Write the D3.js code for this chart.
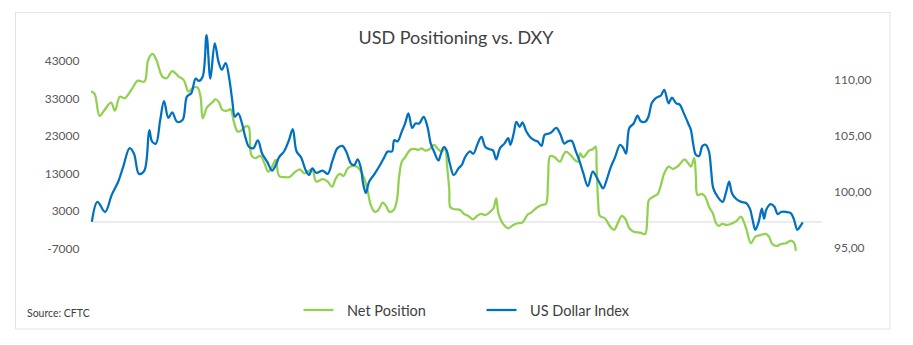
<!DOCTYPE html>
<html>
<head>
<meta charset="utf-8">
<script src="https://cdn.jsdelivr.net/npm/d3@7/dist/d3.min.js"></script>
<style>
  html, body { margin: 0; padding: 0; background: #ffffff; }
  svg { display: block; font-family: Lato, "Open Sans", sans-serif; }
</style>
</head>
<body>
<svg id="chart" width="913" height="345"></svg>
<script>
// ---------- DATA ----------
const title = "USD Positioning vs. DXY";
const sourceText = "Source: CFTC";
const seriesNames = ["Net Position", "US Dollar Index"];
const leftTicks = [-7000, 3000, 13000, 23000, 33000, 43000];
const rightTicks = [95, 100, 105, 110];
const xTickLabels = ["Mar-22", "Sep-22", "Mar-23", "Sep-23", "Mar-24", "Sep-24", "Mar-25", "Sep-25"];

const dxyDates = [
 "2022-03-01","2022-03-11","2022-03-25","2022-04-06","2022-04-18","2022-04-27","2022-05-09","2022-05-17","2022-05-26",
 "2022-06-05","2022-06-14","2022-06-19","2022-06-26","2022-07-04","2022-07-11","2022-07-19","2022-07-26","2022-08-04",
 "2022-08-14","2022-08-22","2022-08-30","2022-09-07","2022-09-13","2022-09-20","2022-09-27","2022-10-04","2022-10-12",
 "2022-10-19","2022-10-25","2022-11-01","2022-11-07","2022-11-13","2022-11-18","2022-11-24","2022-12-01","2022-12-07",
 "2022-12-14","2022-12-22","2022-12-30","2023-01-07","2023-01-16","2023-01-25","2023-02-01","2023-02-07","2023-02-16",
 "2023-02-25","2023-03-04","2023-03-11","2023-03-19","2023-03-28","2023-04-03","2023-04-09","2023-04-16","2023-04-28",
 "2023-05-07","2023-05-16","2023-05-25","2023-06-03","2023-06-10","2023-06-19","2023-06-25","2023-07-01","2023-07-07",
 "2023-07-11","2023-07-16","2023-07-22","2023-08-01","2023-08-10","2023-08-19","2023-08-25","2023-09-02","2023-09-06",
 "2023-09-12","2023-09-20","2023-09-26","2023-10-02","2023-10-09","2023-10-15","2023-10-22","2023-10-30","2023-11-06",
 "2023-11-12","2023-11-18","2023-11-26","2023-11-30","2023-12-06","2023-12-11","2023-12-17","2023-12-24","2024-01-02",
 "2024-01-08","2024-01-14","2024-01-23","2024-01-29","2024-02-06","2024-02-13","2024-02-20","2024-02-28","2024-03-05",
 "2024-03-11","2024-03-18","2024-03-26","2024-04-02","2024-04-06","2024-04-12","2024-04-17","2024-04-23","2024-04-28",
 "2024-05-05","2024-05-12","2024-05-20","2024-05-26","2024-06-02","2024-06-08","2024-06-16","2024-06-20","2024-06-29",
 "2024-07-06","2024-07-14","2024-07-20","2024-07-27","2024-08-04","2024-08-11","2024-08-18","2024-08-26","2024-09-04",
 "2024-09-11","2024-09-17","2024-09-23","2024-09-29","2024-10-07","2024-10-15","2024-10-24","2024-10-30","2024-11-04",
 "2024-11-10","2024-11-18","2024-11-25","2024-12-01","2024-12-09","2024-12-15","2024-12-21","2024-12-27","2025-01-03",
 "2025-01-07","2025-01-13","2025-01-21","2025-01-27","2025-02-04","2025-02-10","2025-02-18","2025-02-26","2025-03-03",
 "2025-03-07","2025-03-12","2025-03-18","2025-03-24","2025-03-30","2025-04-05","2025-04-09","2025-04-13","2025-04-21",
 "2025-04-30","2025-05-06","2025-05-12","2025-05-17","2025-05-24","2025-06-03","2025-06-12","2025-06-19","2025-06-24",
 "2025-06-29","2025-07-05","2025-07-11","2025-07-15","2025-07-19","2025-07-27","2025-08-03","2025-08-09","2025-08-15",
 "2025-08-24","2025-09-02","2025-09-08","2025-09-14","2025-09-19","2025-09-23"
];
const dxyValues = [
 97.4,99.1,98.2,99.7,100.9,102.2,103.9,103.4,101.6,
 101.9,105.5,104.5,104.3,106.4,108.1,106.6,107.1,106.25,
 106.4,108.5,108.8,110.1,109.9,110.3,114.0,110.1,113.25,
 111.6,110.9,111.5,110.3,108.2,106.7,107.0,106.1,104.9,
 104.0,103.9,104.6,103.4,102.7,101.9,102.4,103.1,103.6,
 104.6,105.6,103.6,103.1,101.9,101.5,102.1,101.7,101.9,
 101.6,102.8,103.9,104.1,103.6,102.5,102.4,102.9,102.1,
 100.75,99.9,100.9,101.6,102.3,103.1,103.6,103.6,104.6,
 104.5,105.4,106.1,107.0,105.7,106.1,106.1,106.7,105.8,
 104.3,103.6,102.8,103.3,104.0,103.7,102.5,101.5,102.1,
 102.4,103.1,103.6,103.4,104.3,104.9,104.0,103.8,103.7,
 102.9,103.9,104.3,104.8,104.2,105.2,106.25,105.8,106.2,
 105.4,104.9,104.6,104.5,104.1,105.1,105.2,105.3,105.7,
 105.2,104.3,104.5,104.55,103.6,102.7,101.6,100.5,101.8,
 101.3,100.75,100.3,101.0,102.2,103.1,104.2,103.9,103.4,
 105.7,106.1,106.8,106.3,106.25,106.7,107.9,108.3,108.5,
 108.6,109.1,107.9,108.4,107.9,107.8,107.0,106.1,105.5,
 104.3,103.3,103.2,104.1,104.2,103.6,101.9,100.3,99.55,
 99.1,99.9,100.9,99.9,99.4,99.1,99.0,98.5,97.5,
 96.6,97.3,98.5,97.6,98.4,98.9,98.66,98.0,98.2,
 98.2,98.1,97.5,96.6,96.9,97.2
];

const netDates = [
 "2022-03-01","2022-03-06","2022-03-15","2022-03-24","2022-04-05","2022-04-12","2022-04-21","2022-04-30","2022-05-12",
 "2022-05-24","2022-06-05","2022-06-12","2022-06-20","2022-06-27","2022-07-08","2022-07-16","2022-07-26","2022-08-07",
 "2022-08-16","2022-08-25","2022-09-01","2022-09-10","2022-09-16","2022-09-20","2022-09-28","2022-10-07","2022-10-14",
 "2022-10-20","2022-10-26","2022-11-04","2022-11-10","2022-11-16","2022-11-23","2022-12-01","2022-12-07","2022-12-13",
 "2022-12-18","2022-12-25","2023-01-04","2023-01-10","2023-01-18","2023-01-25","2023-02-01","2023-02-07","2023-02-19",
 "2023-02-27","2023-03-07","2023-03-17","2023-03-25","2023-04-03","2023-04-09","2023-04-16","2023-04-28","2023-05-07",
 "2023-05-15","2023-05-22","2023-05-29","2023-06-05","2023-06-13","2023-06-23","2023-07-01","2023-07-07","2023-07-13",
 "2023-07-19","2023-07-25","2023-08-01","2023-08-07","2023-08-16","2023-08-22","2023-08-28","2023-09-05","2023-09-11",
 "2023-09-15","2023-09-20","2023-09-26","2023-10-05","2023-10-14","2023-10-20","2023-10-26","2023-11-02","2023-11-10",
 "2023-11-18","2023-11-24","2023-12-02","2023-12-08","2023-12-12","2023-12-16","2023-12-18","2023-12-26","2024-01-05",
 "2024-01-12","2024-01-20","2024-01-28","2024-02-05","2024-02-12","2024-02-20","2024-02-27","2024-03-06","2024-03-11",
 "2024-03-15","2024-03-22","2024-04-02","2024-04-11","2024-04-20","2024-04-28","2024-05-07","2024-05-14","2024-05-23",
 "2024-06-02","2024-06-10","2024-06-14","2024-06-18","2024-06-26","2024-07-06","2024-07-12","2024-07-17","2024-07-25",
 "2024-08-02","2024-08-08","2024-08-12","2024-08-17","2024-08-22","2024-08-28","2024-09-04","2024-09-09","2024-09-11",
 "2024-09-14","2024-09-17","2024-09-26","2024-10-06","2024-10-13","2024-10-21","2024-10-27","2024-11-03","2024-11-10",
 "2024-11-18","2024-11-30","2024-12-09","2024-12-13","2024-12-16","2024-12-24","2025-01-01","2025-01-07","2025-01-13",
 "2025-01-21","2025-01-29","2025-02-06","2025-02-12","2025-02-19","2025-02-26","2025-03-03","2025-03-09","2025-03-12",
 "2025-03-15","2025-03-23","2025-03-29","2025-04-05","2025-04-12","2025-04-18","2025-04-23","2025-04-29","2025-05-07",
 "2025-05-15","2025-05-24","2025-06-03","2025-06-07","2025-06-13","2025-06-21","2025-06-29","2025-07-09","2025-07-18",
 "2025-07-24","2025-07-30","2025-08-07","2025-08-15","2025-08-24","2025-09-02","2025-09-08","2025-09-11"
];
const netValues = [
 34750,34130,28270,29870,31810,29680,33410,32990,35200,
 37680,37410,43200,44800,43200,38750,38320,40190,38750,
 37870,34750,35650,35920,33410,27650,30590,31810,32720,
 31810,29870,29680,30050,26750,24080,24530,25410,25410,
 17870,16990,17600,16080,13410,14750,16530,12270,11920,
 12080,13150,14050,12990,13680,14050,10750,11390,10750,
 9410,11650,12800,12270,14320,14930,14590,13410,11650,
 8530,4530,2750,3010,5150,4270,2750,3200,5870,
 12080,16080,17250,19200,19470,19200,19650,19010,19470,
 20530,19650,18750,19650,14750,8530,3920,3390,3200,
 2130,1600,720,1600,2130,1870,2480,3650,6320,
 2320,-190,-1680,-800,-350,-190,1870,2480,3650,
 4530,4800,11200,17600,17250,16080,17870,18750,17870,
 16530,16080,18320,17250,17870,19010,19390,20080,14750,
 4990,1600,990,-1250,-2130,80,1600,720,-1680,
 -2590,-2850,-3200,1410,5870,6750,7470,9870,12990,
 14750,14130,14750,15650,16720,15650,14750,16990,12080,
 7200,7470,6750,4080,2320,-350,-1070,-530,-800,
 -530,80,1410,350,-2130,-5680,-3920,-3470,-3200,
 -3920,-5870,-6400,-5870,-5680,-4990,-5520,-7470
];

// ---------- LAYOUT ----------
const W = 913, H = 345;
const svg = d3.select("#chart");
const parse = d3.timeParse("%Y-%m-%d");

const x = d3.scaleTime()
  .domain([parse("2022-03-01"), parse("2025-09-01")])
  .range([92, 790.25]);
const axisEndX = 822;
const yL = d3.scaleLinear().domain([-7000, 53000]).range([248.2, 23.2]);
const yR = d3.scaleLinear().domain([95, 115]).range([247.8, 23.8]);

const textCol = "#595959";
const green = "#92D050";
const blue = "#0070C0";

// outer border
svg.append("rect")
  .attr("x", 15.5).attr("y", 12.5)
  .attr("width", 874.5).attr("height", 316.5)
  .attr("fill", "#ffffff").attr("stroke", "#e3e3e3").attr("stroke-width", 1);

// title
svg.append("text")
  .attr("x", 456).attr("y", 37)
  .attr("text-anchor", "middle").attr("dominant-baseline", "central")
  .attr("font-size", 18).attr("fill", "#404040")
  .text(title);

// left axis labels (hyphen-minus as in the original)
svg.append("g").selectAll("text").data(leftTicks).join("text")
  .attr("x", 79.5).attr("y", d => yL(d))
  .attr("text-anchor", "end").attr("dominant-baseline", "central")
  .attr("font-size", 12).attr("fill", textCol)
  .text(d => String(d));

// right axis labels
const fmtR = v => v.toFixed(2).replace(".", ",");
svg.append("g").selectAll("text").data(rightTicks).join("text")
  .attr("x", 834).attr("y", d => yR(d))
  .attr("text-anchor", "start").attr("dominant-baseline", "central")
  .attr("font-size", 12).attr("fill", textCol)
  .text(d => fmtR(d));

// category axis at zero of left axis
const tickDates = x.ticks(d3.timeMonth.every(6)).filter(d => d.getMonth() === 2 || d.getMonth() === 8);
const axisY = yL(0);
const axG = svg.append("g");
axG.append("line")
  .attr("x1", 92).attr("x2", axisEndX)
  .attr("y1", axisY).attr("y2", axisY)
  .attr("stroke", "#d9d9d9").attr("stroke-width", 1);
axG.selectAll("line.tick").data(tickDates).join("line")
  .attr("class", "tick")
  .attr("x1", d => Math.round(x(d)) + 0.5).attr("x2", d => Math.round(x(d)) + 0.5)
  .attr("y1", axisY).attr("y2", axisY + 5)
  .attr("stroke", "#d9d9d9").attr("stroke-width", 1);
axG.selectAll("text").data(tickDates).join("text")
  .attr("x", d => x(d)).attr("y", 263.5)
  .attr("text-anchor", "middle").attr("dominant-baseline", "central")
  .attr("font-size", 12).attr("fill", textCol)
  .text((d, i) => xTickLabels[i]);

// lines
const netData = netDates.map((d, i) => ({ date: parse(d), v: netValues[i] }));
const dxyData = dxyDates.map((d, i) => ({ date: parse(d), v: dxyValues[i] }));

svg.append("path")
  .datum(netData)
  .attr("fill", "none").attr("stroke", green).attr("stroke-width", 2.25)
  .attr("stroke-linejoin", "round").attr("stroke-linecap", "round")
  .attr("d", d3.line().x(d => x(d.date)).y(d => yL(d.v)).curve(d3.curveCatmullRom.alpha(0.5)));

svg.append("path")
  .datum(dxyData)
  .attr("fill", "none").attr("stroke", blue).attr("stroke-width", 2.25)
  .attr("stroke-linejoin", "round").attr("stroke-linecap", "round")
  .attr("d", d3.line().x(d => x(d.date)).y(d => yR(d.v)).curve(d3.curveCatmullRom.alpha(0.5)));

// legend
const legend = [
  { name: seriesNames[0], color: green, x1: 303.5, tx: 347 },
  { name: seriesNames[1], color: blue, x1: 486.5, tx: 530 }
];
const lg = svg.append("g");
legend.forEach(l => {
  lg.append("line")
    .attr("x1", l.x1).attr("x2", l.x1 + 30)
    .attr("y1", 310).attr("y2", 310)
    .attr("stroke", l.color).attr("stroke-width", 2.25);
  lg.append("text")
    .attr("x", l.tx).attr("y", 310)
    .attr("dominant-baseline", "central")
    .attr("font-size", 14.5).attr("fill", "#404040")
    .text(l.name);
});

// source
svg.append("text")
  .attr("x", 27).attr("y", 313)
  .attr("dominant-baseline", "central")
  .attr("font-size", 10.5).attr("fill", "#404040")
  .text(sourceText);
</script>
</body>
</html>
